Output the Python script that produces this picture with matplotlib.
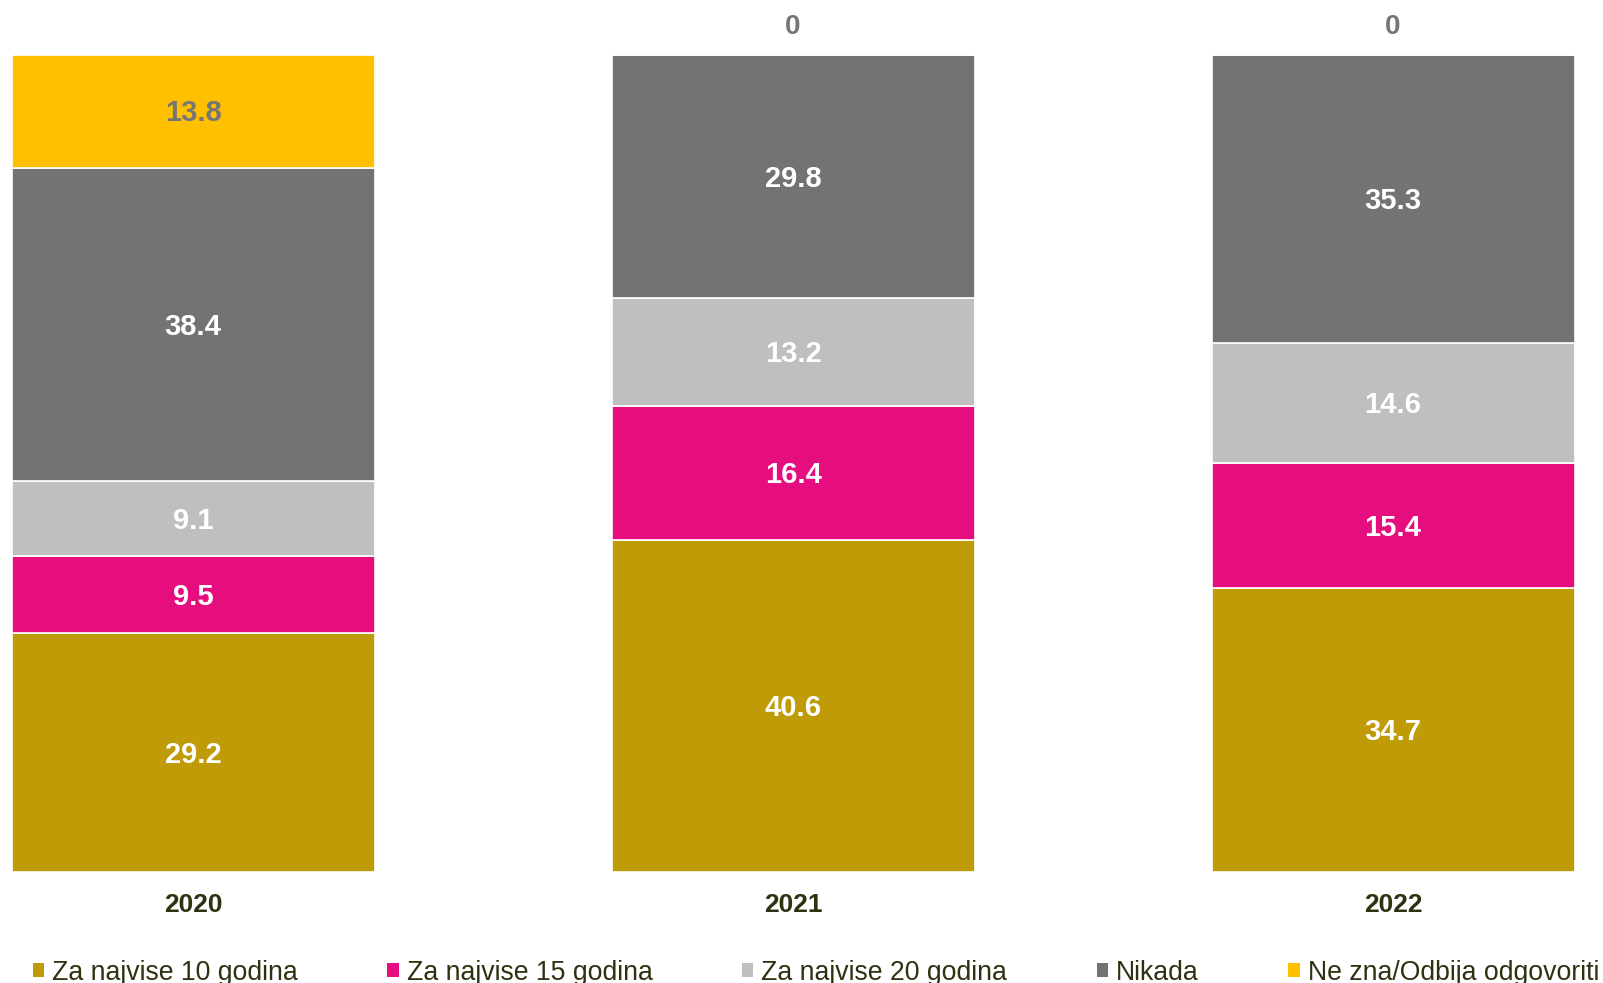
import matplotlib.pyplot as plt
from matplotlib.patches import Patch

years = ["2020", "2021", "2022"]
categories = ["Za najvise 10 godina", "Za najvise 15 godina", "Za najvise 20 godina",
              "Nikada", "Ne zna/Odbija odgovoriti"]
za_10 = [29.2, 40.6, 34.7]
za_15 = [9.5, 16.4, 15.4]
za_20 = [9.1, 13.2, 14.6]
nikada = [38.4, 29.8, 35.3]
ne_zna = [13.8, 0, 0]

series = [za_10, za_15, za_20, nikada, ne_zna]
colors = ["#BF9B08", "#E60D7E", "#BFBFBF", "#737373", "#FFC000"]
label_colors = ["white", "white", "white", "white", "#767676"]
TEXT_DARK = "#2B3310"

plt.rcParams["font.family"] = ["Liberation Sans", "DejaVu Sans"]

fig = plt.figure(figsize=(16.03, 9.83), dpi=100)
ax = fig.add_axes([0, 0.113, 1, 0.831])

x = list(range(len(years)))
bottom = [0.0] * len(years)
for vals, col, lcol in zip(series, colors, label_colors):
    ax.bar(x, vals, width=0.605, bottom=bottom, color=col,
           edgecolor="white", linewidth=1.2)
    for xi, b, v in zip(x, bottom, vals):
        if v > 0:
            ax.annotate(f"{v:.1f}", (xi, b + v / 2), xytext=(0, -1.5),
                        textcoords="offset points", ha="center", va="center",
                        color=lcol, fontsize=21, fontweight="bold")
        else:
            # empty segment: label sits above the bar
            ax.annotate("0", (xi, b + v), xytext=(0, 20), textcoords="offset points",
                        ha="center", va="center", color=lcol,
                        fontsize=20, fontweight="bold")
    bottom = [b + v for b, v in zip(bottom, vals)]

ax.set_xlim(-0.322, 2.35)
ax.set_ylim(0, 100)
ax.set_xticks(x)
ax.set_xticklabels(years, fontsize=19, fontweight="bold", color=TEXT_DARK)
ax.tick_params(axis="x", length=0, pad=15)
ax.set_yticks([])
for s in ax.spines.values():
    s.set_visible(False)

handles = [Patch(facecolor=c, edgecolor="none") for c in colors]
fig.legend(handles, categories, loc="center left", bbox_to_anchor=(0.0205, 0.0105),
           ncol=5, frameon=False, fontsize=19.2, handlelength=0.42, handleheight=0.42,
           handletextpad=0.3, columnspacing=3.36, borderaxespad=0, borderpad=0,
           labelcolor=TEXT_DARK)

fig.savefig("out.png", dpi=100)
